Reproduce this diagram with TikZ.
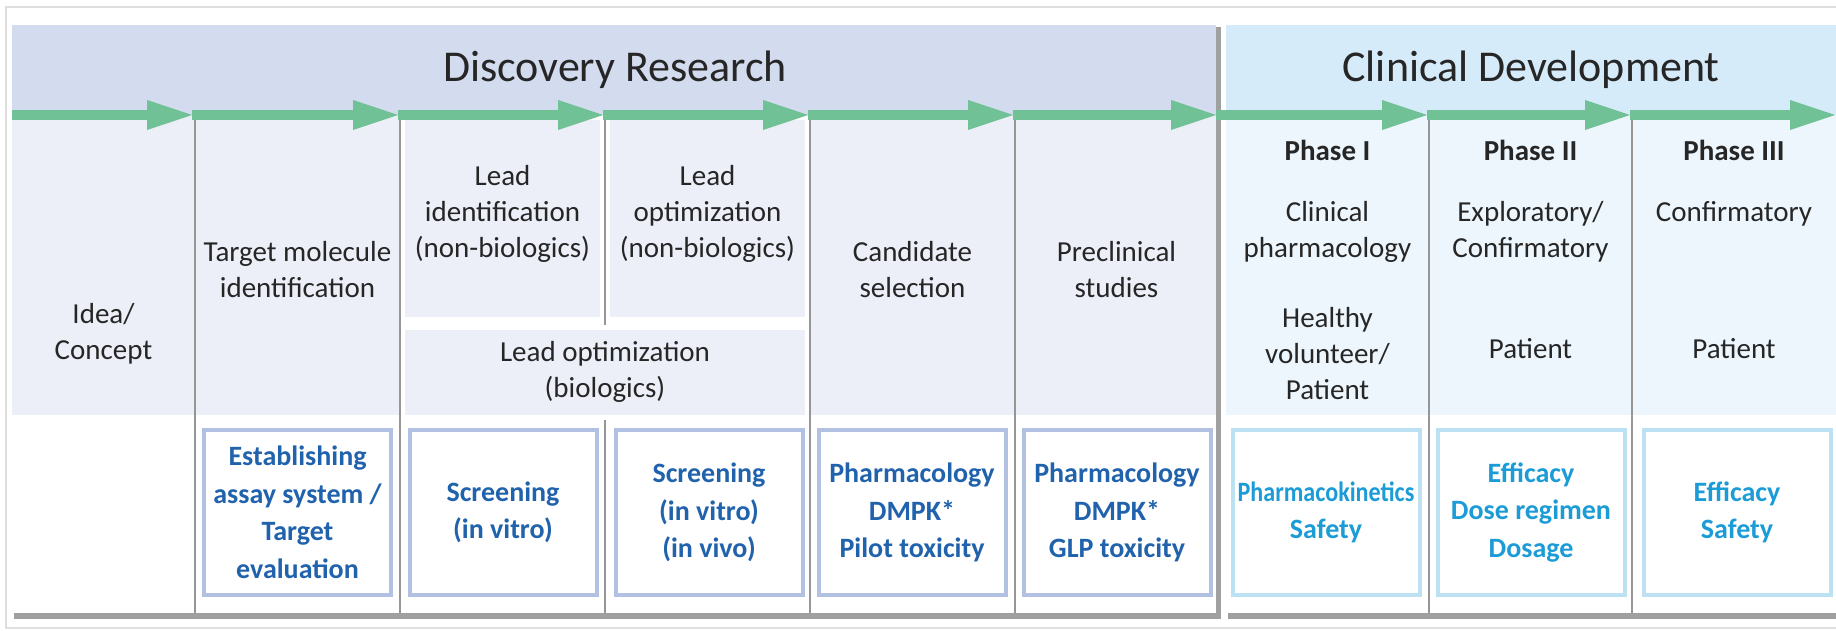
\documentclass[tikz,border=0pt]{standalone}
\usepackage{fontspec}
\setmainfont{Carlito}
\usepackage{graphicx}
\usetikzlibrary{arrows.meta}
\definecolor{discHead}{RGB}{211,219,239}
\definecolor{clinHead}{RGB}{214,235,249}
\definecolor{discCell}{RGB}{237,239,248}
\definecolor{clinCell}{RGB}{237,246,252}
\definecolor{discBorder}{RGB}{178,193,226}
\definecolor{clinBorder}{RGB}{188,225,243}
\definecolor{discText}{RGB}{32,98,172}
\definecolor{clinText}{RGB}{28,156,214}
\definecolor{txtDark}{RGB}{38,38,38}
\definecolor{arrowGreen}{RGB}{112,194,150}
\definecolor{divGray}{RGB}{150,150,150}
\definecolor{shadowGray}{RGB}{160,160,160}
\definecolor{frameGray}{RGB}{222,222,222}
\begin{document}
\begin{tikzpicture}[x=0.5pt,y=-0.5pt,
  uptext/.style={align=center, text=txtDark, font=\fontsize{14.5}{18}\selectfont, inner sep=0pt},
  phase/.style={uptext, font=\fontsize{14.5}{18}\selectfont\bfseries},
  title/.style={text=txtDark, font=\fontsize{22}{26}\selectfont, inner sep=0pt},
  dbox/.style={draw=discBorder, line width=2pt, fill=white, minimum width=93.5pt, minimum height=82.5pt, align=center, inner sep=0pt, text=discText, font=\fontsize{14}{18.75}\selectfont\bfseries},
  cbox/.style={dbox, draw=clinBorder, text=clinText},
  divider/.style={draw=divGray, line width=0.9pt},
  garrow/.style={draw=arrowGreen, line width=5pt, -{Triangle[length=22.5pt,width=15pt,line width=0pt]}},
  shadow/.style={fill=shadowGray}
]
\useasboundingbox (0,0) rectangle (1836,631);
\fill[white] (0,0) rectangle (1836,631);
% outer frame
\draw[frameGray, line width=0.8pt] (6,7) rectangle (1850,628);
% shadows
\fill[shadow] (14,613) rectangle (1221,619);
\fill[shadow] (1216,27) rectangle (1221,619);
\fill[shadow] (1228,613) rectangle (1840,619);
% discovery section
\fill[white] (12,25) rectangle (1216,613);
\fill[discHead] (12,25) rectangle (1216,115);
\fill[discCell] (12,115) rectangle (1216,415);
\fill[white] (400,115) rectangle (810,415);
\fill[discCell] (405,120) rectangle (600,317);
\fill[discCell] (610,120) rectangle (805,317);
\fill[discCell] (405,330) rectangle (805,415);
% clinical section
\fill[white] (1226,25) rectangle (1840,613);
\fill[clinHead] (1226,25) rectangle (1840,115);
\fill[clinCell] (1226,115) rectangle (1840,415);
% dividers
\draw[divider] (195,118) -- (195,613);
\draw[divider] (400,118) -- (400,613);
\draw[divider] (605,118) -- (605,325);
\draw[divider] (605,420) -- (605,613);
\draw[divider] (810,118) -- (810,613);
\draw[divider] (1015,118) -- (1015,613);
\draw[divider] (1429,118) -- (1429,613);
\draw[divider] (1632,118) -- (1632,613);
% titles
\node[title] (disc) at (615,70) {Discovery Research};
\node[title] (clin) at (1531,70) {Clinical Development};
% green arrow
\coordinate (a0) at (12,115);
\coordinate (a1) at (192,115);
\coordinate (a2) at (398,115);
\coordinate (a3) at (603,115);
\coordinate (a4) at (808,115);
\coordinate (a5) at (1013,115);
\coordinate (a6) at (1216,115);
\coordinate (a7) at (1427,115);
\coordinate (a8) at (1630,115);
\coordinate (a9) at (1835,115);
\draw[garrow] (a0) -- (a1);
\draw[garrow] (a1) -- (a2);
\draw[garrow] (a2) -- (a3);
\draw[garrow] (a3) -- (a4);
\draw[garrow] (a4) -- (a5);
\draw[garrow] (a5) -- (a6);
\draw[garrow] (a6) -- (a7);
\draw[garrow] (a7) -- (a8);
\draw[garrow] (a8) -- (a9);
% upper texts
\node[uptext] (idea) at (103.5,333.5) {Idea/\\Concept};
\node[uptext] (target) at (297.5,269.5) {Target molecule\\identification};
\node[uptext] (leadid) at (502.5,214) {Lead\\identification\\(non-biologics)};
\node[uptext] (leadopt) at (707.5,214) {Lead\\optimization\\(non-biologics)};
\node[uptext] (cand) at (912.5,269.5) {Candidate\\selection};
\node[uptext] (precl) at (1116.5,269.5) {Preclinical\\studies};
\node[uptext] (bio) at (605,372) {Lead optimization\\(biologics)};
\node[phase] (p1) at (1327.5,150) {Phase I};
\node[uptext] (p1a) at (1327.5,231.5) {Clinical\\pharmacology};
\node[uptext] (p1b) at (1327.5,354) {Healthy\\volunteer/\\Patient};
\node[phase] (p2) at (1530.5,150) {Phase II};
\node[uptext] (p2a) at (1530.5,231.5) {Exploratory/\\Confirmatory};
\node[uptext] (p2b) at (1530.5,349) {Patient};
\node[phase] (p3) at (1734,150) {Phase III};
\node[uptext] (p3a) at (1734,214) {Confirmatory};
\node[uptext] (p3b) at (1734,349) {Patient};
% lower boxes
\node[dbox] (b1) at (297.5,512.5) {Establishing\\assay system /\\Target\\evaluation};
\node[dbox] (b2) at (503,512.5) {Screening\\(in vitro)};
\node[dbox] (b3) at (709,512.5) {Screening\\(in vitro)\\(in vivo)};
\node[dbox] (b4) at (912,512.5) {Pharmacology\\DMPK*\\Pilot toxicity};
\node[dbox] (b5) at (1117,512.5) {Pharmacology\\DMPK*\\GLP toxicity};
\node[cbox] (b6) at (1326,512.5) {\scalebox{0.86}[1]{Pharmacokinetics}\\Safety};
\node[cbox] (b7) at (1531,512.5) {Efficacy\\Dose regimen\\Dosage};
\node[cbox] (b8) at (1737,512.5) {Efficacy\\Safety};
\end{tikzpicture}
\end{document}
